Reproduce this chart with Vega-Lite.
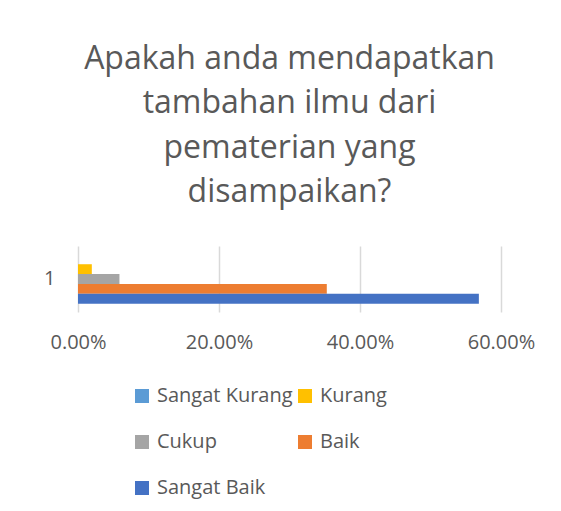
{
  "$schema": "https://vega.github.io/schema/vega-lite/v6.json",
  "autosize": "none",
  "width": 423,
  "height": 66,
  "padding": {"left": 78, "top": 246, "right": 60, "bottom": 199},
  "background": "white",
  "config": {
    "font": "Open Sans",
    "view": {"stroke": null}
  },
  "title": {
    "text": ["Apakah anda mendapatkan", "tambahan ilmu dari", "pematerian yang", "disampaikan?"],
    "fontSize": 32,
    "font": "Open Sans",
    "fontWeight": "normal",
    "color": "#595959",
    "lineHeight": 44.5,
    "anchor": "middle",
    "offset": 37
  },
  "data": {
    "values": [
      {"cat": "1", "series": "Sangat Kurang", "value": 0},
      {"cat": "1", "series": "Kurang", "value": 0.0196},
      {"cat": "1", "series": "Cukup", "value": 0.0588},
      {"cat": "1", "series": "Baik", "value": 0.3529},
      {"cat": "1", "series": "Sangat Baik", "value": 0.5686}
    ]
  },
  "mark": {"type": "bar"},
  "encoding": {
    "y": {
      "field": "cat",
      "type": "nominal",
      "scale": {"paddingInner": 0, "paddingOuter": 0.17},
      "axis": {
        "title": null,
        "labelFontSize": 20,
        "labelColor": "#595959",
        "ticks": false,
        "domain": false,
        "labelPadding": 23,
        "labelAngle": 0
      }
    },
    "yOffset": {
      "field": "series",
      "type": "nominal",
      "sort": ["Sangat Kurang", "Kurang", "Cukup", "Baik", "Sangat Baik"],
      "scale": {"paddingInner": 0, "paddingOuter": 0}
    },
    "x": {
      "field": "value",
      "type": "quantitative",
      "scale": {"domain": [0, 0.6], "nice": false},
      "axis": {
        "title": null,
        "format": ".2%",
        "values": [0, 0.2, 0.4, 0.6],
        "labelFontSize": 20,
        "labelColor": "#595959",
        "labelFlush": false,
        "ticks": false,
        "domain": false,
        "labelPadding": 20,
        "grid": true,
        "gridColor": "#D9D9D9",
        "gridWidth": 1.5
      }
    },
    "color": {
      "field": "series",
      "type": "nominal",
      "scale": {
        "domain": ["Sangat Kurang", "Kurang", "Cukup", "Baik", "Sangat Baik"],
        "range": ["#5B9BD5", "#FFC000", "#A5A5A5", "#ED7D31", "#4472C4"]
      },
      "legend": {
        "title": null,
        "orient": "none",
        "direction": "horizontal",
        "legendX": 54,
        "legendY": 140,
        "columns": 2,
        "symbolType": "square",
        "symbolSize": 196,
        "symbolStrokeWidth": 0,
        "symbolOpacity": 1,
        "labelFontSize": 20,
        "labelColor": "#595959",
        "labelOffset": 5,
        "columnPadding": 2,
        "rowPadding": 26,
        "padding": 0
      }
    }
  }
}
